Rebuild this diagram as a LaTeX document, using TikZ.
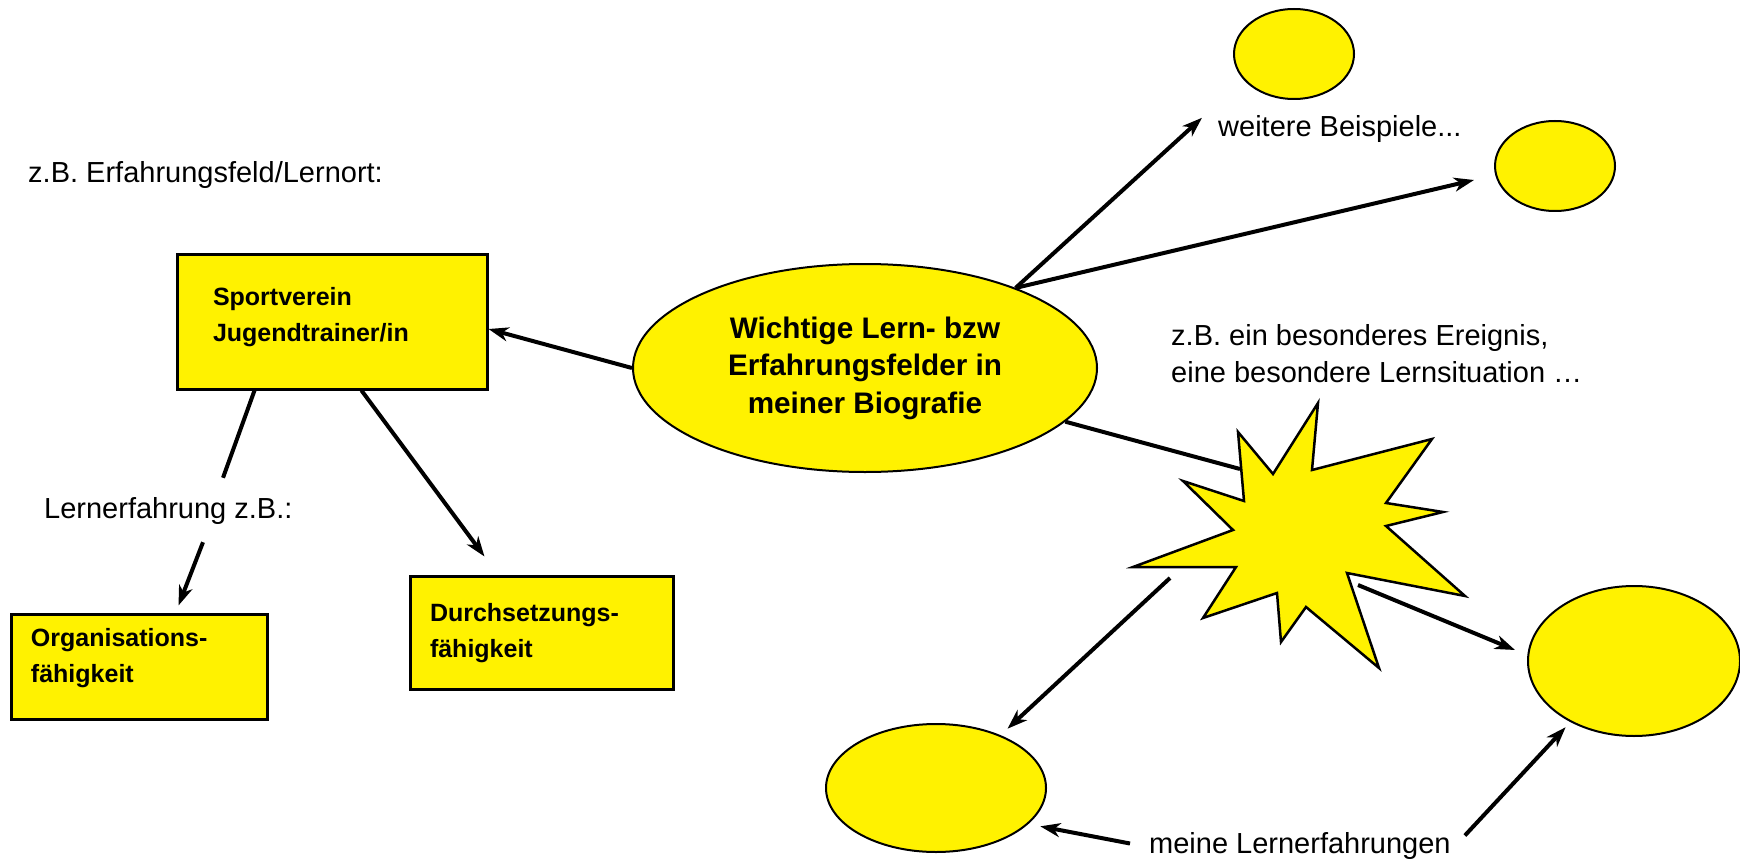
\documentclass[tikz,border=0pt]{standalone}
\usepackage{fontspec}
\setmainfont{Liberation Sans}
\usetikzlibrary{arrows.meta,calc,shapes.geometric}
\newcommand{\boxtxt}[5]{\parbox[c][#2][t]{#1}{\fontsize{25}{36}\selectfont\bfseries\leftskip=#3\relax\vspace*{#4}#5}}
\tikzset{
  yb/.style={draw=black, fill=yellow, line width=3pt, rectangle, inner sep=0pt},
  yel/.style={draw=black, fill=yellow, line width=2pt, ellipse, inner sep=0pt},
  arr/.style={line width=4pt, -{Stealth[length=20pt,width=14pt,inset=6pt]}},
  ln/.style={line width=4pt},
  lbl/.style={inner sep=0pt, anchor=base west, font=\fontsize{29}{37}\selectfont},
}
\begin{document}
\begin{tikzpicture}[x=1pt,y=-1pt]
\useasboundingbox (0,0) rectangle (1740,861);

% main ellipse
\node[yel, minimum width=464pt, minimum height=208pt, align=center,
      font=\fontsize{29.7}{37.5}\selectfont\bfseries] (main) at (865,368)
      {Wichtige Lern- bzw\\Erfahrungsfelder in\\meiner Biografie};

% boxes
\node[yb] (sport) at (332,321.5) {\boxtxt{310pt}{135pt}{36pt}{33.5pt}{Sportverein\\Jugendtrainer/in}};
\node[yb] (org) at (139,666.5) {\boxtxt{256pt}{105pt}{20pt}{14.5pt}{Organisations-\\fähigkeit}};
\node[yb] (durch) at (541.5,632.5) {\boxtxt{263pt}{113pt}{20pt}{27.8pt}{Durchsetzungs-\\fähigkeit}};

% labels
\node[lbl] (zb) at (28,183) {z.B. Erfahrungsfeld/Lernort:};
\node[lbl] (lern) at (44,518) {Lernerfahrung z.B.:};
\node[lbl] (wb) at (1218,137) {weitere Beispiele...};
\node[lbl] (ereig) at (1171,345) {\parbox[t]{500pt}{\fontsize{29}{37}\selectfont z.B. ein besonderes Ereignis,\\eine besondere Lernsituation …}};
\node[lbl] (ml) at (1149,853) {meine Lernerfahrungen};

% circles
\node[yel, minimum width=120pt, minimum height=90pt] (t1) at (1294,54) {};
\node[yel, minimum width=120pt, minimum height=90pt] (r1) at (1555,166) {};
\node[yel, minimum width=220pt, minimum height=128pt] (bl) at (936,788) {};
\node[yel, minimum width=212pt, minimum height=150pt] (br) at (1634,661) {};

% connectors
\draw[arr] (main.west) -- ($(sport.east)+(0,7.5)$);
\draw[ln] ($(sport.south west)+(79,0)$) -- ($(lern.north west)+(179,-19)$);
\draw[arr] ($(lern.south west)+(159,18)$) -- ($(org.north west)+(169,-7)$);
\draw[arr] ($(sport.south west)+(186,0)$) -- ($(durch.north west)+(76,-18)$);
\draw[arr] (main.28) -- ($(wb.north west)+(-16,2)$);
\draw[arr] (main.28) -- ($(r1.west)+(-20,14)$);

\coordinate (starL) at (1240,469);
\coordinate (starSW) at (1170,578);
\coordinate (starSE) at (1358,585);
\draw[ln] (main.-15) -- (starL);

% star
\draw[fill=yellow, line width=2.5pt, line join=miter]
  (1318,403) -- (1312,470) -- (1432,439) -- (1386,503) -- (1443,512) --
  (1386,526) -- (1465,596) -- (1347,573) -- (1379,668) -- (1306,607) --
  (1281,642) -- (1277,593) -- (1203,618) -- (1236,567) -- (1133,567) --
  (1233,530) -- (1183,481) -- (1244,501) -- (1238,432) -- (1273,474) -- cycle;

\draw[arr] (starSW) -- ($(bl.40)+(8,-6)$);
\draw[arr] (starSE) -- ($(br.west)+(-12,-11)$);
\draw[arr] ($(ml.west)+(-19,-2)$) -- ($(bl.-20)+(10,4)$);
\draw[arr] ($(ml.east)+(14,-10)$) -- ($(br.224)+(-5,5)$);
\end{tikzpicture}
\end{document}
